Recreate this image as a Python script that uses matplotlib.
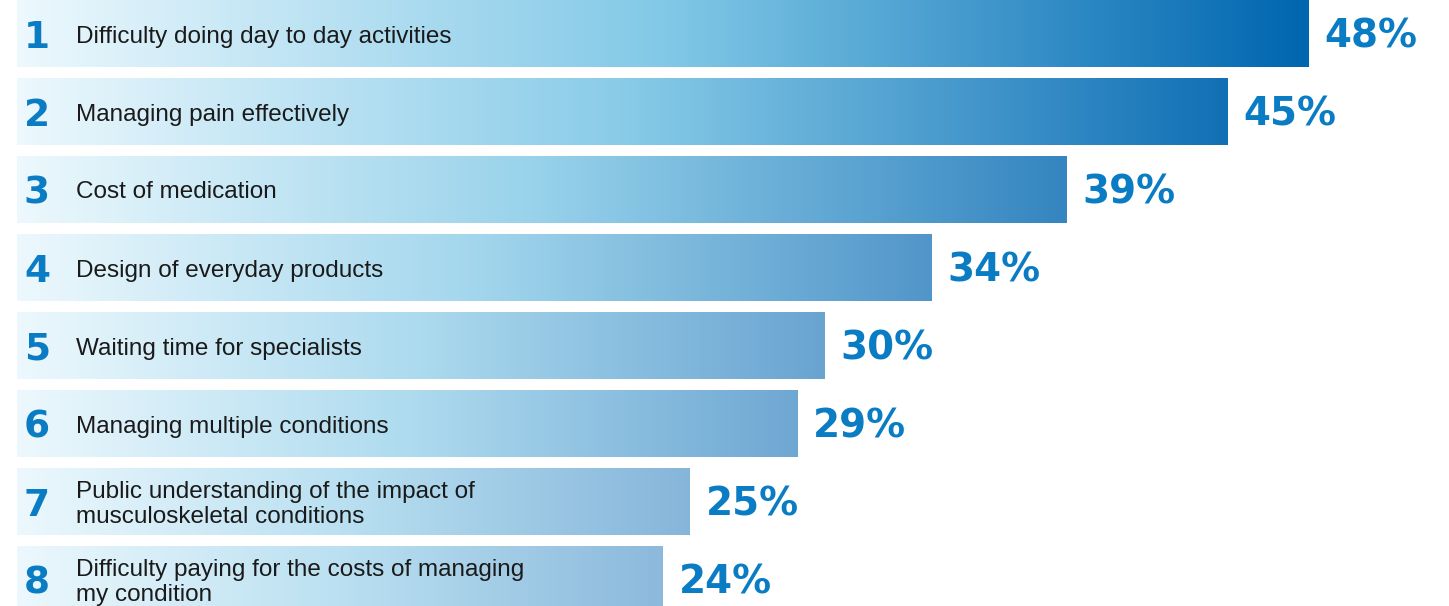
import numpy as np
import matplotlib
matplotlib.use('Agg')
import matplotlib.pyplot as plt
from matplotlib.colors import LinearSegmentedColormap, to_rgb

# data
ranks = ['1', '2', '3', '4', '5', '6', '7', '8']
labels = ['Difficulty doing day to day activities',
          'Managing pain effectively',
          'Cost of medication',
          'Design of everyday products',
          'Waiting time for specialists',
          'Managing multiple conditions',
          'Public understanding of the impact of\nmusculoskeletal conditions',
          'Difficulty paying for the costs of managing\nmy condition']
values = [48, 45, 39, 34, 30, 29, 25, 24]

# figure in pixel-like layout
W, H, DPI = 1449, 606, 100
px_per_pct = 26.9
x0_px = 17
fig = plt.figure(figsize=(W / DPI, H / DPI), dpi=DPI)
ax = fig.add_axes([0, 0, 1, 1])
ax.set_xlim(-x0_px / px_per_pct, (W - x0_px) / px_per_pct)
pitch = 78.0
y0_px = 33.5
ax.set_ylim((H - y0_px) / pitch, -y0_px / pitch)
ax.axis('off')

blue = '#0a7cc4'
light = np.array(to_rgb('#ecf8fd'))
mid_hi, mid_lo = np.array(to_rgb('#82c9e7')), np.array(to_rgb('#bae0f1'))
end_hi, end_lo = np.array(to_rgb('#0066b0')), np.array(to_rgb('#8cb9dc'))

ypos = np.arange(len(values))
bar_h = 68 / pitch
bars = ax.barh(ypos, values, height=bar_h, left=0, color='none', edgecolor='none')

vmin, vmax = min(values), max(values)
grad = np.linspace(0, 1, 256).reshape(1, -1)
for b, v in zip(bars, values):
    t = (v - vmin) / (vmax - vmin)
    mid = mid_lo + (mid_hi - mid_lo) * t
    end = end_lo + (end_hi - end_lo) * t
    cmap = LinearSegmentedColormap.from_list('g', [(0, light), (0.5, mid), (1, end)])
    x, y = b.get_x(), b.get_y()
    im = ax.imshow(grad, cmap=cmap, aspect='auto', interpolation='bilinear',
                   extent=[x, x + b.get_width(), y + b.get_height(), y], zorder=1)
    im.set_clip_path(b)

num_base = 14 / pitch
lab_shift = 3 / pitch
for i, (r, lab, v) in enumerate(zip(ranks, labels, values)):
    ax.text(20 / px_per_pct, i + num_base, r, ha='center', va='baseline', color=blue,
            fontsize=27, fontweight='bold', family='DejaVu Sans', zorder=3)
    ax.text(59 / px_per_pct, i + lab_shift, lab, ha='left', va='center', color='#1a1a1a',
            fontsize=17.5, family='Liberation Sans', linespacing=1.22, zorder=3)
    ax.text(v + 16 / px_per_pct, i + num_base, f'{v}%', ha='left', va='baseline', color=blue,
            fontsize=28, fontweight='bold', family='DejaVu Sans', zorder=3)

fig.savefig('out.png', dpi=DPI)
